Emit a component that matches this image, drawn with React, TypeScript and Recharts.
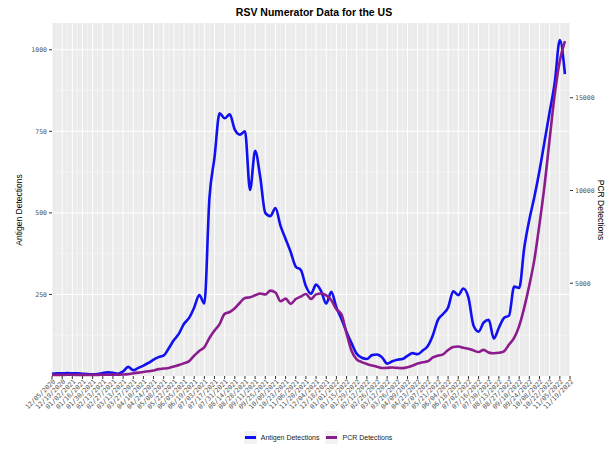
import { CartesianGrid, Legend, Line, LineChart, XAxis, YAxis } from "recharts";

// weekly report dates, every other one gets a tick label
const weeks = [
  "12/05/2020", "12/12/2020", "12/19/2020", "12/26/2020",
  "01/02/2021", "01/09/2021", "01/16/2021", "01/23/2021", "01/30/2021",
  "02/06/2021", "02/13/2021", "02/20/2021", "02/27/2021",
  "03/06/2021", "03/13/2021", "03/20/2021", "03/27/2021",
  "04/03/2021", "04/10/2021", "04/17/2021", "04/24/2021",
  "05/01/2021", "05/08/2021", "05/15/2021", "05/22/2021", "05/29/2021",
  "06/05/2021", "06/12/2021", "06/19/2021", "06/26/2021",
  "07/03/2021", "07/10/2021", "07/17/2021", "07/24/2021", "07/31/2021",
  "08/07/2021", "08/14/2021", "08/21/2021", "08/28/2021",
  "09/04/2021", "09/11/2021", "09/18/2021", "09/25/2021",
  "10/02/2021", "10/09/2021", "10/16/2021", "10/23/2021", "10/30/2021",
  "11/06/2021", "11/13/2021", "11/20/2021", "11/27/2021",
  "12/04/2021", "12/11/2021", "12/18/2021", "12/25/2021",
  "01/01/2022", "01/08/2022", "01/15/2022", "01/22/2022", "01/29/2022",
  "02/05/2022", "02/12/2022", "02/19/2022", "02/26/2022",
  "03/05/2022", "03/12/2022", "03/19/2022", "03/26/2022",
  "04/02/2022", "04/09/2022", "04/16/2022", "04/23/2022", "04/30/2022",
  "05/07/2022", "05/14/2022", "05/21/2022", "05/28/2022",
  "06/04/2022", "06/11/2022", "06/18/2022", "06/25/2022",
  "07/02/2022", "07/09/2022", "07/16/2022", "07/23/2022", "07/30/2022",
  "08/06/2022", "08/13/2022", "08/20/2022", "08/27/2022",
  "09/03/2022", "09/10/2022", "09/17/2022", "09/24/2022",
  "10/01/2022", "10/08/2022", "10/15/2022", "10/22/2022", "10/29/2022",
  "11/05/2022", "11/12/2022", "11/19/2022",
];

const antigen = [
  7, 8, 8, 9, 8, 8, 7, 6, 5, 6,
  9, 11, 10, 7, 14, 28, 18, 25, 32, 40,
  50, 58, 63, 85, 110, 130, 160, 178, 210, 248,
  222, 545, 670, 805, 790, 802, 755, 740, 750, 570,
  690, 610, 500, 490, 515, 460, 420, 380, 335, 325,
  275, 252, 280, 260, 222, 258, 210, 175, 135, 100,
  68, 56, 52, 64, 66, 57, 38, 45, 50, 52,
  62, 70, 67, 78, 92, 125, 172, 190, 210, 260,
  248, 268, 240, 155, 136, 164, 172, 115, 148, 178,
  185, 274, 270, 394, 480, 550, 630, 720, 810, 900,
  1030, 925,
];

const pcr = [
  60, 60, 62, 65, 65, 62, 60, 60, 60, 62,
  65, 70, 72, 75, 80, 100, 150, 180, 220, 260,
  300, 370, 400, 430, 513, 590, 690, 800, 1100, 1350,
  1550, 2050, 2450, 2800, 3350, 3450, 3650, 3950, 4210, 4240,
  4350, 4450, 4390, 4600, 4500, 4030, 4170, 3890, 4150, 4280,
  4420, 4150, 4400, 4450, 4350, 4080, 3600, 3320, 2300, 1350,
  900, 750, 650, 570, 500, 430, 440, 460, 440, 425,
  470, 560, 670, 740, 790, 1000, 1100, 1170, 1400, 1560,
  1590, 1520, 1470, 1380, 1290, 1410, 1260, 1230, 1250, 1330,
  1700, 2050, 2700, 3700, 4900, 6300, 8200, 10300, 12800, 15200,
  17000, 18050,
];

const antigenTicks = [250, 500, 750, 1000];
const antigenMinor = [125, 375, 625, 875];
const pcrTicks = [5000, 10000, 15000];

const data = weeks.map((week, i) => ({
  week,
  antigen: antigen[i] ?? null,
  pcr: pcr[i] ?? null,
}));

const W = 608;
const H = 449;
const LEFT_MAX = 1082;
const mono = "'DejaVu Sans Mono', monospace";
const sans = "'Liberation Sans', Arial, sans-serif";

const yPos = (props: any, values: number[]) => {
  const { yAxis, offset } = props;
  return values.map((v) =>
    yAxis && typeof yAxis.scale === "function"
      ? yAxis.scale(v)
      : offset.top + offset.height * (1 - v / LEFT_MAX)
  );
};

const xPos = (props: any, keep: (i: number) => boolean) => {
  const { xAxis, offset } = props;
  return weeks
    .map((w, i) =>
      xAxis && typeof xAxis.scale === "function"
        ? xAxis.scale(w)
        : offset.left + (offset.width * i) / (weeks.length - 1)
    )
    .filter((_, i) => keep(i));
};

const DateTick = ({ x, y, payload }: any) => (
  <text
    x={x + 2}
    y={y}
    dy="0.5em"
    transform={`rotate(-45 ${x} ${y})`}
    textAnchor="end"
    fontSize={6.5}
    fontFamily={mono}
    fill="#555"
  >
    {payload.value}
  </text>
);

const LegendBox = ({ payload }: any) => (
  <div
    style={{
      display: "flex",
      justifyContent: "center",
      gap: 6,
      fontFamily: sans,
      fontSize: 7,
      color: "#1a1a1a",
      paddingLeft: 20,
      paddingTop: 7,
    }}
  >
    {(payload || []).map((p: any) => (
      <div key={p.value} style={{ display: "flex", alignItems: "center" }}>
        <span
          style={{
            width: 13,
            height: 13,
            background: "#f2f2f2",
            display: "inline-flex",
            alignItems: "center",
            justifyContent: "center",
            marginRight: 4,
          }}
        >
          <span style={{ width: 11, height: 2.5, background: p.color }} />
        </span>
        {p.value}
      </div>
    ))}
  </div>
);

export default function App() {
  return (
    <div style={{ position: "absolute", left: 0, top: 0, width: W, height: H, background: "#fff" }}>
      <LineChart width={W} height={H} data={data} margin={{ top: 23, right: 0, bottom: 0, left: 8 }}>
        <CartesianGrid
          fill="#ebebeb"
          stroke="#f6f6f6"
          strokeWidth={0.6}
          horizontalCoordinatesGenerator={(p: any) => yPos(p, antigenMinor)}
          verticalCoordinatesGenerator={(p: any) => xPos(p, (i) => i % 2 === 1)}
        />
        <CartesianGrid
          stroke="#ffffff"
          strokeWidth={1}
          horizontalCoordinatesGenerator={(p: any) => yPos(p, antigenTicks)}
          verticalCoordinatesGenerator={(p: any) => xPos(p, (i) => i % 2 === 0)}
        />
        <XAxis
          dataKey="week"
          interval={1}
          height={48}
          tick={<DateTick />}
          tickSize={3}
          tickMargin={2}
          tickLine={{ stroke: "#333" }}
          axisLine={false}
        />
        <YAxis
          width={44}
          domain={[0, LEFT_MAX]}
          ticks={antigenTicks}
          tickSize={3}
          tickMargin={2}
          tickLine={{ stroke: "#333" }}
          axisLine={false}
          tick={{ fontSize: 6.5, fontFamily: mono, fill: "#555" }}
        />
        <YAxis
          yAxisId="pcr"
          orientation="right"
          width={38}
          domain={[0, 19030]}
          ticks={pcrTicks}
          tickSize={3}
          tickMargin={2}
          tickLine={{ stroke: "#333" }}
          axisLine={false}
          tick={{ fontSize: 6.5, fontFamily: mono, fill: "#555" }}
        />
        <Legend verticalAlign="bottom" height={25} content={<LegendBox />} />
        <Line
          type="monotone"
          dataKey="antigen"
          name="Antigen Detections"
          stroke="#1010f0"
          strokeWidth={2.6}
          dot={false}
          isAnimationActive={false}
        />
        <Line
          type="monotone"
          dataKey="pcr"
          yAxisId="pcr"
          name="PCR Detections"
          stroke="#8b1c8e"
          strokeWidth={2.6}
          dot={false}
          isAnimationActive={false}
        />
        <text x={314} y={16} textAnchor="middle" fontSize={10.5} fontWeight="bold" fontFamily={sans} fill="#000">
          RSV Numerator Data for the US
        </text>
        <text x={22} y={210} textAnchor="middle" transform="rotate(-90 22 210)" fontSize={8.5} fontFamily={sans} fill="#000">
          Antigen Detections
        </text>
        <text x={598} y={210} textAnchor="middle" transform="rotate(90 598 210)" fontSize={8.5} fontFamily={sans} fill="#000">
          PCR Detections
        </text>
      </LineChart>
    </div>
  );
}
